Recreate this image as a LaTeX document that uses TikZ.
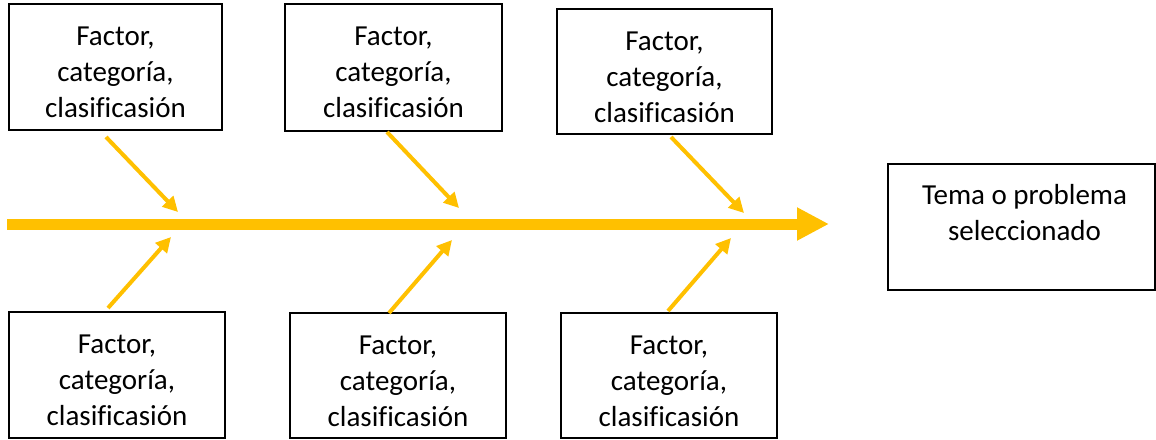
\documentclass[tikz,border=0pt]{standalone}
\usepackage{fontspec}
\setmainfont[Ligatures=CommonOff]{Carlito}
\usetikzlibrary{arrows.meta}
\definecolor{gold}{RGB}{255,192,0}
\tikzset{
  box/.style={draw=black, line width=2pt, rectangle, inner sep=0pt},
  txt/.style={inner sep=0pt, align=center, anchor=north, font=\fontsize{29}{36}\selectfont},
  spine/.style={draw=gold, line width=11pt, -{Triangle[length=32pt,width=31pt]}},
  rib/.style={draw=gold, line width=4pt, -{Triangle[length=15pt,width=15pt]}}
}
\begin{document}
\begin{tikzpicture}[x=1pt,y=-1pt]
\useasboundingbox (0,0) rectangle (1156,439);
% boxes
\node[box, minimum width=213pt, minimum height=126pt] (b1) at (115.5,67) {};
\node[box, minimum width=217pt, minimum height=127pt] (b2) at (393.5,67.5) {};
\node[box, minimum width=215pt, minimum height=125pt] (b3) at (664.5,71.5) {};
\node[box, minimum width=216pt, minimum height=126pt] (b4) at (117,375) {};
\node[box, minimum width=216pt, minimum height=125pt] (b5) at (398,375.5) {};
\node[box, minimum width=216pt, minimum height=125pt] (b6) at (669,375.5) {};
\node[box, minimum width=267pt, minimum height=126pt] (bt) at (1021.5,227) {};
% texts
\node[txt] (t1) at ([yshift=-24pt]b1.north) {Factor,\\categoría,\\clasificasión};
\node[txt] (t2) at ([yshift=-24pt]b2.north) {Factor,\\categoría,\\clasificasión};
\node[txt] (t3) at ([yshift=-24pt]b3.north) {Factor,\\categoría,\\clasificasión};
\node[txt] (t4) at ([yshift=-24pt]b4.north) {Factor,\\categoría,\\clasificasión};
\node[txt] (t5) at ([yshift=-24pt]b5.north) {Factor,\\categoría,\\clasificasión};
\node[txt] (t6) at ([yshift=-24pt]b6.north) {Factor,\\categoría,\\clasificasión};
\node[txt] (tt) at ([xshift=3pt,yshift=-21pt]bt.north) {Tema o problema\\seleccionado};
% spine
\coordinate (s0) at (7,224);
\coordinate (s1) at (829,224);
\draw[spine] (s0) -- (s1);
% ribs
\coordinate (a1s) at (106,137); \coordinate (a1e) at (178,212);
\coordinate (a2s) at (387,132); \coordinate (a2e) at (459,208);
\coordinate (a3s) at (671,137); \coordinate (a3e) at (744,213);
\coordinate (a4s) at (108,308); \coordinate (a4e) at (171,237);
\coordinate (a5s) at (389,313); \coordinate (a5e) at (452,240);
\coordinate (a6s) at (668,311); \coordinate (a6e) at (731,238);
\draw[rib] (a1s) -- (a1e);
\draw[rib] (a2s) -- (a2e);
\draw[rib] (a3s) -- (a3e);
\draw[rib] (a4s) -- (a4e);
\draw[rib] (a5s) -- (a5e);
\draw[rib] (a6s) -- (a6e);
\end{tikzpicture}
\end{document}
